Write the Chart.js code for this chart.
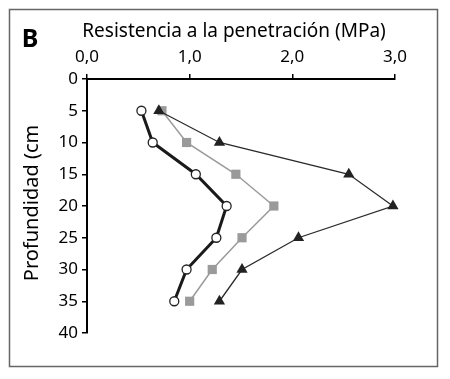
<!DOCTYPE html>
<html>
<head>
<meta charset="utf-8">
<script src="https://cdn.jsdelivr.net/npm/chart.js@4.4.1/dist/chart.umd.min.js"></script>
<style>
  html, body { margin: 0; padding: 0; background: #fff; }
  #wrap { width: 450px; height: 379px; }
</style>
</head>
<body>
<div id="wrap"><canvas id="chart" width="450" height="379"></canvas></div>
<script>
// Profundidad (cm) y resistencia (MPa) por tratamiento
const depths = [5, 10, 15, 20, 25, 30, 35];
const circleSeries = [0.53, 0.64, 1.06, 1.36, 1.26, 0.97, 0.85];
const squareSeries = [0.73, 0.97, 1.45, 1.82, 1.51, 1.22, 1.00];
const triangleSeries = [0.70, 1.29, 2.55, 2.98, 2.06, 1.51, 1.29];
const xTicks = [0, 1, 2, 3];
const yTicks = [0, 5, 10, 15, 20, 25, 30, 35, 40];

const FONT = '"Noto Sans", "Open Sans", sans-serif';

function toPoints(values) {
    return values.map((v, i) => ({ x: v, y: depths[i] }));
}

// marco, letra del panel y titulos
const decor = {
    id: 'decor',
    afterDraw(chart) {
        const ctx = chart.ctx;
        ctx.save();
        ctx.strokeStyle = '#666';
        ctx.lineWidth = 1.5;
        ctx.strokeRect(9.5, 9.5, 428, 357);

        ctx.fillStyle = '#000';
        ctx.font = 'bold 25px ' + FONT;
        ctx.textAlign = 'center';
        ctx.textBaseline = 'middle';
        ctx.fillText('B', 30, 40);

        ctx.font = '19px ' + FONT;
        ctx.fillText('Resistencia a la penetración (MPa)', 234, 32);

        ctx.translate(32, 203);
        ctx.rotate(-Math.PI / 2);
        ctx.font = '20px ' + FONT;
        ctx.fillText('Profundidad (cm', 0, 0);
        ctx.restore();
    }
};

new Chart(document.getElementById('chart'), {
    type: 'scatter',
    data: {
        datasets: [
            {
                data: toPoints(squareSeries),
                showLine: true,
                borderColor: '#9a9a9a',
                borderWidth: 1.5,
                pointStyle: 'rect',
                pointRadius: 6.5,
                pointBackgroundColor: '#9a9a9a',
                pointBorderColor: '#9a9a9a',
                pointBorderWidth: 0,
                order: 3
            },
            {
                data: toPoints(triangleSeries),
                showLine: true,
                borderColor: '#2a2a2a',
                borderWidth: 1.3,
                pointStyle: 'triangle',
                pointRadius: 6.5,
                pointBackgroundColor: '#222',
                pointBorderColor: '#222',
                pointBorderWidth: 0,
                order: 2
            },
            {
                data: toPoints(circleSeries),
                showLine: true,
                borderColor: '#1a1a1a',
                borderWidth: 3,
                pointStyle: 'circle',
                pointRadius: 4.5,
                pointBackgroundColor: '#fff',
                pointBorderColor: '#222',
                pointBorderWidth: 1.3,
                order: 1
            }
        ]
    },
    options: {
        responsive: false,
        animation: false,
        clip: false,
        layout: { padding: { left: 0, top: 0, right: 55, bottom: 46 } },
        plugins: {
            legend: { display: false },
            tooltip: { enabled: false }
        },
        scales: {
            x: {
                type: 'linear',
                position: 'top',
                min: 0,
                max: 3,
                afterFit: s => { s.height = 79; },
                afterBuildTicks: s => { s.ticks = xTicks.map(v => ({ value: v })); },
                grid: { drawOnChartArea: false, drawTicks: true, tickLength: 5, color: '#000', lineWidth: 1.5 },
                border: { display: true, color: '#000', width: 2 },
                ticks: {
                    padding: 7,
                    color: '#000',
                    font: { family: FONT, size: 17 },
                    callback: v => v.toFixed(1).replace('.', ',')
                }
            },
            y: {
                type: 'linear',
                reverse: true,
                min: 0,
                max: 40,
                afterFit: s => { s.width = 87; },
                afterBuildTicks: s => { s.ticks = yTicks.map(v => ({ value: v })); },
                grid: { drawOnChartArea: false, drawTicks: true, tickLength: 5, color: '#000', lineWidth: 1.5 },
                border: { display: true, color: '#000', width: 2 },
                ticks: {
                    padding: 4,
                    color: '#000',
                    font: { family: FONT, size: 17 }
                }
            }
        }
    },
    plugins: [decor]
});
</script>
</body>
</html>
